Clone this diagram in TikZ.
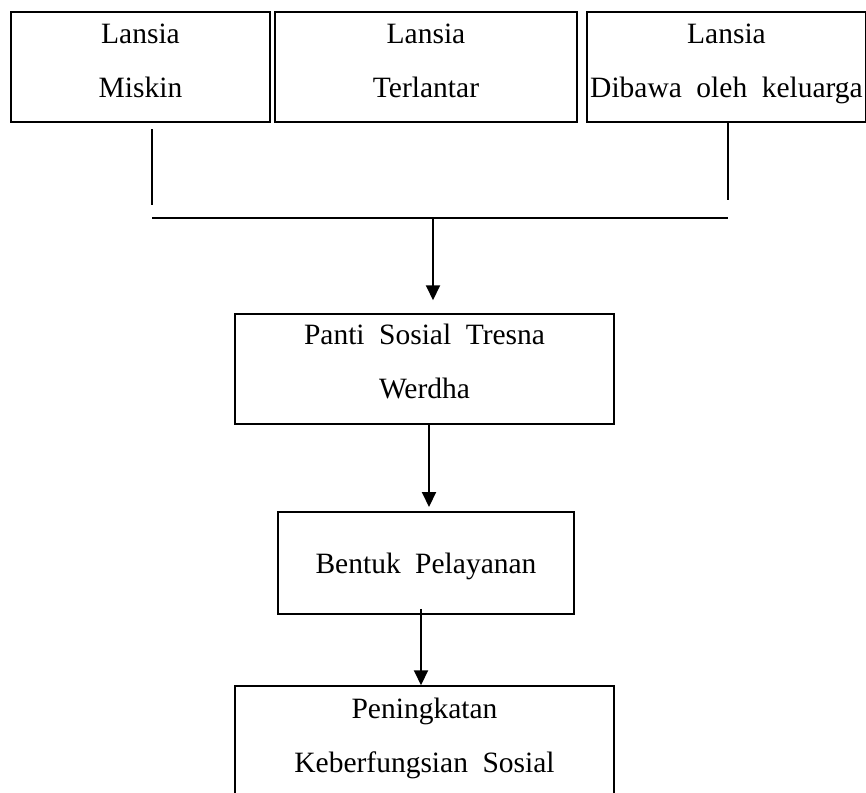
\documentclass[tikz,border=0pt]{standalone}
\usepackage{fontspec}
\setmainfont{Liberation Serif}
\usetikzlibrary{arrows.meta}
\newcommand\boxfont{\fontsize{29.5}{54}\selectfont\spaceskip=14.5pt\relax}
\begin{document}
\begin{tikzpicture}[x=1pt,y=-1pt,align=center,font=\boxfont,
        box/.style={rectangle,draw,line width=1.5pt,inner sep=0pt,text depth=0pt},
        link/.style={line width=2pt},
        arr/.style={line width=2pt,-{Triangle[width=14pt,length=15pt]}}]
    \useasboundingbox (0,0) rectangle (866,792);

    \node[box,text height=60pt,minimum width=259pt,minimum height=110pt] (miskin) at (140.5,67) {Lansia\\Miskin};
    \node[box,text height=60pt,minimum width=302pt,minimum height=110pt] (terlantar) at (426,67) {Lansia\\Terlantar};
    \node[box,text height=60pt,minimum width=279pt,minimum height=110pt] (keluarga) at (726.5,67) {Lansia\\Dibawa oleh keluarga};
    \node[box,text height=58pt,minimum width=379pt,minimum height=110pt] (panti) at (424.5,369) {Panti Sosial Tresna\\Werdha};
    \node[box,text height=20pt,minimum width=296pt,minimum height=102pt] (bentuk) at (426,563) {Bentuk Pelayanan};
    \node[box,text height=52pt,minimum width=379pt,minimum height=120pt] (hasil) at (424.5,746) {Peningkatan\\Keberfungsian Sosial};

    \coordinate (a1) at (152,129);
    \coordinate (a2) at (152,205);
    \coordinate (b1) at (728,122);
    \coordinate (b2) at (728,200);
    \coordinate (c1) at (152,218);
    \coordinate (c2) at (728,218);
    \coordinate (c3) at (433,218);

    \draw[link] (a1) -- (a2);
    \draw[link] (b1) -- (b2);
    \draw[link] (c1) -- (c2);
    \draw[arr,shorten >=13pt] (c3) -- (c3 |- panti.north);
    \draw[arr,shorten >=5pt] (429,424) -- (429,512);
    \draw[arr] ([xshift=-5pt,yshift=6pt]bentuk.south) -- ([xshift=-3.5pt]hasil.north);
\end{tikzpicture}
\end{document}
